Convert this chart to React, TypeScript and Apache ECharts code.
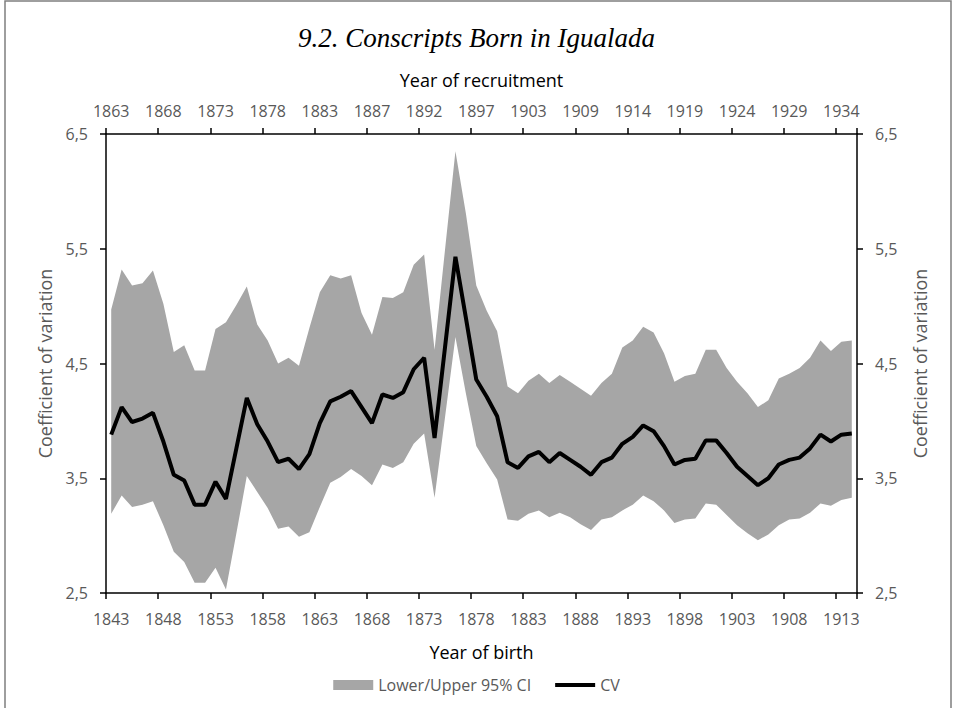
import { useEffect, useRef } from 'react';
import * as echarts from 'echarts';

const FIRST_BIRTH_YEAR = 1843;
const LAST_BIRTH_YEAR = 1914;
const birthYears: string[] = Array.from(
  { length: LAST_BIRTH_YEAR - FIRST_BIRTH_YEAR + 1 },
  (_, i) => String(FIRST_BIRTH_YEAR + i)
);

const recruitmentYears = [
  '1863', '1868', '1873', '1878', '1883', '1887', '1892', '1897',
  '1903', '1909', '1914', '1919', '1924', '1929', '1934',
];

const cv = [
  3.88, 4.12, 3.99, 4.02, 4.07, 3.82, 3.53, 3.48, 3.27, 3.27,
  3.47, 3.32, 3.76, 4.20, 3.97, 3.82, 3.64, 3.67, 3.58, 3.71,
  3.98, 4.17, 4.21, 4.26, 4.12, 3.98, 4.23, 4.20, 4.25, 4.45,
  4.55, 3.85, 4.64, 5.43, 4.90, 4.36, 4.21, 4.04, 3.64, 3.59,
  3.69, 3.73, 3.64, 3.72, 3.66, 3.60, 3.53, 3.64, 3.68, 3.80,
  3.86, 3.96, 3.91, 3.78, 3.62, 3.66, 3.67, 3.83, 3.83, 3.72,
  3.60, 3.52, 3.44, 3.50, 3.62, 3.66, 3.68, 3.76, 3.88, 3.82,
  3.88, 3.89,
];

const upperCI = [
  4.97, 5.32, 5.18, 5.20, 5.31, 5.02, 4.60, 4.66, 4.44, 4.44,
  4.80, 4.86, 5.01, 5.17, 4.84, 4.70, 4.50, 4.55, 4.48, 4.81,
  5.12, 5.27, 5.24, 5.27, 4.94, 4.75, 5.08, 5.07, 5.12, 5.36,
  5.45, 4.62, 5.49, 6.35, 5.81, 5.18, 4.96, 4.78, 4.30, 4.24,
  4.35, 4.41, 4.33, 4.40, 4.34, 4.28, 4.22, 4.33, 4.41, 4.64,
  4.70, 4.82, 4.77, 4.59, 4.34, 4.39, 4.41, 4.62, 4.62, 4.46,
  4.34, 4.24, 4.12, 4.18, 4.37, 4.41, 4.46, 4.55, 4.70, 4.61,
  4.69, 4.70,
];

const lowerCI = [
  3.19, 3.35, 3.25, 3.27, 3.30, 3.09, 2.86, 2.77, 2.59, 2.59,
  2.72, 2.53, 3.02, 3.52, 3.38, 3.24, 3.06, 3.08, 2.99, 3.03,
  3.25, 3.46, 3.51, 3.58, 3.52, 3.44, 3.62, 3.59, 3.64, 3.80,
  3.89, 3.33, 4.03, 4.73, 4.24, 3.78, 3.63, 3.49, 3.14, 3.13,
  3.19, 3.22, 3.16, 3.20, 3.16, 3.10, 3.05, 3.14, 3.16, 3.22,
  3.27, 3.35, 3.30, 3.22, 3.11, 3.14, 3.15, 3.28, 3.27, 3.18,
  3.09, 3.02, 2.96, 3.01, 3.09, 3.14, 3.15, 3.20, 3.28, 3.26,
  3.31, 3.33,
];

const FONT = 'Open Sans';
const GRAY_TEXT = '#595959';
const BAND = '#a6a6a6';

export default function App() {
  const ref = useRef<HTMLDivElement>(null);

  useEffect(() => {
    if (!ref.current) return;
    const chart = echarts.init(ref.current, undefined, { renderer: 'svg' });
    const bandWidth = upperCI.map((u, i) => +(u - lowerCI[i]).toFixed(3));
    const yFmt = (v: number) => v.toFixed(1).replace('.', ',');
    const axisLine = { show: true, lineStyle: { color: '#000', width: 1.5 } };
    const tick = { show: true, length: 6, lineStyle: { color: '#000', width: 1.5 } };

    const yAxisBase = {
      type: 'value' as const,
      min: 2.5,
      max: 6.5,
      interval: 1,
      name: 'Coefficient of variation',
      nameLocation: 'middle' as const,
      nameTextStyle: { fontFamily: FONT, fontSize: 18, color: GRAY_TEXT },
      splitLine: { show: false },
      axisLine,
      axisTick: tick,
      axisLabel: { formatter: yFmt, fontFamily: FONT, fontSize: 16, color: GRAY_TEXT, margin: 18 },
    };

    chart.setOption({
      animation: false,
      textStyle: { fontFamily: FONT },
      title: {
        text: '9.2. Conscripts Born in Igualada',
        left: 'center',
        top: 19,
        textStyle: {
          fontFamily: 'Liberation Serif',
          fontStyle: 'italic',
          fontWeight: 'normal',
          fontSize: 27,
          color: '#000',
        },
      },
      graphic: [
        {
          type: 'rect',
          shape: { x: 5, y: 1, width: 946, height: 720 },
          style: { fill: 'none', stroke: '#7f7f7f', lineWidth: 1.5 },
          silent: true,
        },
      ],
      grid: { left: 106, right: 96, top: 134, bottom: 115 },
      legend: {
        top: 672,
        left: 'center',
        itemWidth: 40,
        itemHeight: 10,
        itemGap: 24,
        textStyle: { fontFamily: FONT, fontSize: 16, color: GRAY_TEXT },
        data: [
          { name: 'Lower/Upper 95% CI', icon: 'rect', itemStyle: { color: BAND } },
          { name: 'CV', icon: 'path://M0,0L40,0L40,4L0,4Z', itemStyle: { color: '#000' } },
        ],
      },
      xAxis: [
        {
          type: 'category',
          data: birthYears,
          position: 'bottom',
          boundaryGap: true,
          name: 'Year of birth',
          nameLocation: 'middle',
          nameGap: 50,
          nameTextStyle: { fontFamily: FONT, fontSize: 18, color: '#000' },
          axisLine,
          axisTick: { ...tick, interval: 4, alignWithLabel: false },
          axisLabel: { interval: 4, fontFamily: FONT, fontSize: 16, color: GRAY_TEXT, margin: 18 },
        },
        {
          type: 'category',
          data: birthYears,
          position: 'top',
          boundaryGap: true,
          name: 'Year of recruitment',
          nameLocation: 'middle',
          nameGap: 45,
          nameTextStyle: { fontFamily: FONT, fontSize: 18, color: '#000' },
          axisLine,
          axisTick: { ...tick, interval: 4, alignWithLabel: false },
          axisLabel: {
            interval: 4,
            fontFamily: FONT,
            fontSize: 16,
            color: GRAY_TEXT,
            margin: 15,
            formatter: (_v: string, idx: number) => recruitmentYears[Math.round(idx / 5)] ?? '',
          },
        },
      ],
      yAxis: [
        { ...yAxisBase, position: 'left', nameGap: 52 },
        { ...yAxisBase, position: 'right', nameGap: 54 },
      ],
      series: [
        {
          name: 'lower',
          type: 'line',
          data: lowerCI,
          stack: 'ci',
          symbol: 'none',
          lineStyle: { width: 0, opacity: 0 },
          silent: true,
        },
        {
          name: 'Lower/Upper 95% CI',
          type: 'line',
          data: bandWidth,
          stack: 'ci',
          symbol: 'none',
          color: BAND,
          itemStyle: { color: BAND },
          lineStyle: { width: 0, opacity: 0 },
          areaStyle: { color: BAND, opacity: 1 },
          silent: true,
        },
        {
          name: 'CV',
          type: 'line',
          data: cv,
          symbol: 'none',
          color: '#000',
          lineStyle: { color: '#000', width: 4 },
          z: 5,
        },
      ],
    });
    return () => chart.dispose();
  }, []);

  return (
    <div
      ref={ref}
      style={{ position: 'fixed', left: 0, top: 0, width: 953, height: 708, background: '#fff' }}
    />
  );
}
